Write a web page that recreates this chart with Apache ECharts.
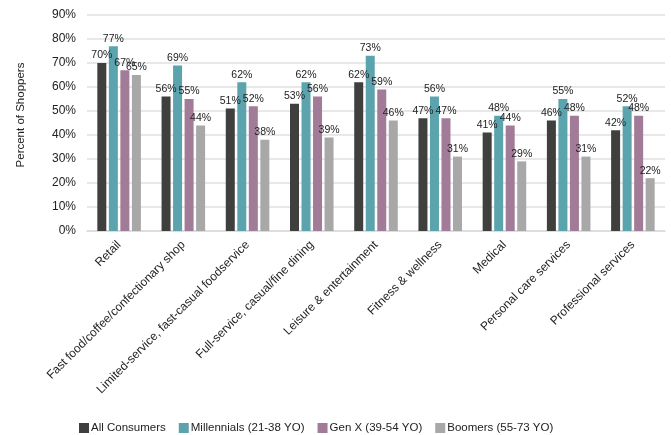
<!DOCTYPE html>
<html><head><meta charset="utf-8">
<script src="https://cdn.jsdelivr.net/npm/echarts@6/dist/echarts.min.js"></script>
<style>html,body{margin:0;padding:0;background:#fff}#c{width:671px;height:435px}</style>
</head><body><div id="c"></div>
<script>
const categories = ["Retail","Fast food/coffee/confectionary shop","Limited-service, fast-casual foodservice","Full-service, casual/fine dining","Leisure & entertainment","Fitness & wellness","Medical","Personal care services","Professional services"];
const allConsumers = [70,56,51,53,62,47,41,46,42];
const millennials = [77,69,62,62,73,56,48,55,52];
const genX = [67,55,52,56,59,47,44,48,48];
const boomers = [65,44,38,39,46,31,29,31,22];
const seriesNames = ["All Consumers","Millennials (21-38 YO)","Gen X (39-54 YO)","Boomers (55-73 YO)"];
const colors = ["#3f403d","#5ba3ad","#a17b97","#a8a8a8"];
const font = "Liberation Sans, Arial, sans-serif";
const chart = echarts.init(document.getElementById('c'));
const mk = (name, data, color) => ({
  name, type: 'bar', data, barWidth: 9, barGap: '28%',
  itemStyle: { color },
  label: { show: true, position: 'top', distance: 2, formatter: '{c}%', fontFamily: font, fontSize: 10.5, color: '#222' }
});
chart.setOption({
  animation: false,
  color: colors,
  textStyle: { fontFamily: font },
  grid: { left: 87, right: 6, top: 15, bottom: 204, containLabel: false },
  legend: {
    top: 417, left: 74, itemWidth: 10, itemHeight: 10, itemGap: 13,
    icon: 'rect',
    textStyle: { fontFamily: font, fontSize: 11.5, color: '#222', padding: [0, 0, 0, -3] },
    data: seriesNames
  },
  xAxis: {
    type: 'category', data: categories,
    axisLine: { lineStyle: { color: '#d9d9d9', width: 1.5 } },
    axisTick: { show: false },
    axisLabel: { rotate: 45, interval: 0, fontSize: 12, color: '#222', fontFamily: font, margin: 12 }
  },
  yAxis: {
    type: 'value', min: 0, max: 90, interval: 10,
    name: 'Percent of Shoppers', nameLocation: 'middle', nameGap: 60, nameRotate: 90,
    nameTextStyle: { fontSize: 11.5, color: '#222', fontFamily: font, padding: [0, 0, 0, 16] },
    axisLabel: { formatter: '{value}%', fontSize: 12, color: '#222', fontFamily: font, margin: 11 },
    splitLine: { lineStyle: { color: '#e0e0e0', width: 1.5 } },
    axisLine: { show: false }, axisTick: { show: false }
  },
  series: [
    mk(seriesNames[0], allConsumers, colors[0]),
    mk(seriesNames[1], millennials, colors[1]),
    mk(seriesNames[2], genX, colors[2]),
    mk(seriesNames[3], boomers, colors[3])
  ]
});
</script></body></html>
